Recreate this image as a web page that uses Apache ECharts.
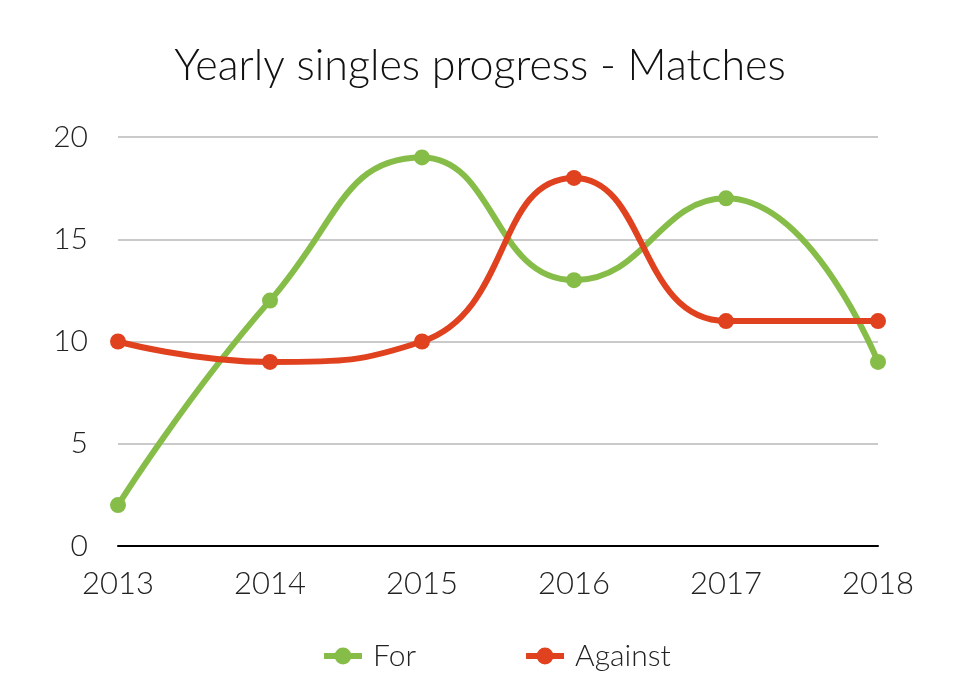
<!DOCTYPE html>
<html>
<head>
<meta charset="utf-8">
<script src="https://cdn.jsdelivr.net/npm/echarts@6/dist/echarts.min.js"></script>
<style>
    html, body { margin: 0; padding: 0; background: #fff; }
    #chart { width: 960px; height: 698px; }
</style>
</head>
<body>
<div id="chart"></div>
<script>
    var years = ['2013', '2014', '2015', '2016', '2017', '2018'];
    var forMatches = [2, 12, 19, 13, 17, 9];
    var againstMatches = [10, 9, 10, 18, 11, 11];
    var chartColor = ['#86bd48', '#e0411e'];
    var font = 'Lato, "Helvetica Neue", "Open Sans", sans-serif';

    var chart = echarts.init(document.getElementById('chart'));
    var option = {
        color: chartColor,
        animation: false,
        title: {
            text: 'Yearly singles progress - Matches',
            left: 'center',
            top: 40,
            textStyle: {
                fontFamily: font,
                fontWeight: 300,
                fontSize: 43,
                color: '#111'
            }
        },
        legend: {
            bottom: 22,
            left: 316,
            itemGap: 107,
            itemWidth: 38,
            itemHeight: 21,
            data: ['For', 'Against'],
            lineStyle: { width: 6 },
            textStyle: {
                fontFamily: font,
                fontWeight: 300,
                fontSize: 30,
                color: '#222',
                padding: [0, 0, 0, 6]
            }
        },
        grid: {
            left: 118,
            right: 82,
            top: 137,
            bottom: 152
        },
        xAxis: {
            type: 'category',
            boundaryGap: false,
            data: years,
            axisLine: { show: true, lineStyle: { color: '#000', width: 2 } },
            axisTick: { show: false },
            axisLabel: {
                margin: 22,
                fontFamily: font,
                fontWeight: 300,
                fontSize: 31,
                color: '#222'
            }
        },
        yAxis: {
            type: 'value',
            min: 0,
            max: 20,
            interval: 5,
            axisLine: { show: false },
            axisTick: { show: false },
            splitLine: { lineStyle: { color: '#b8b8b8', width: 1.5 } },
            axisLabel: {
                margin: 30,
                fontFamily: font,
                fontWeight: 300,
                fontSize: 30,
                color: '#222'
            }
        },
        series: [
            {
                name: 'For',
                type: 'line',
                smooth: 0.5,
                data: forMatches,
                symbol: 'circle',
                symbolSize: 16,
                lineStyle: { width: 6 }
            },
            {
                name: 'Against',
                type: 'line',
                smooth: 0.5,
                data: againstMatches,
                symbol: 'circle',
                symbolSize: 16,
                lineStyle: { width: 6 }
            }
        ]
    };
    chart.setOption(option);
</script>
</body>
</html>
